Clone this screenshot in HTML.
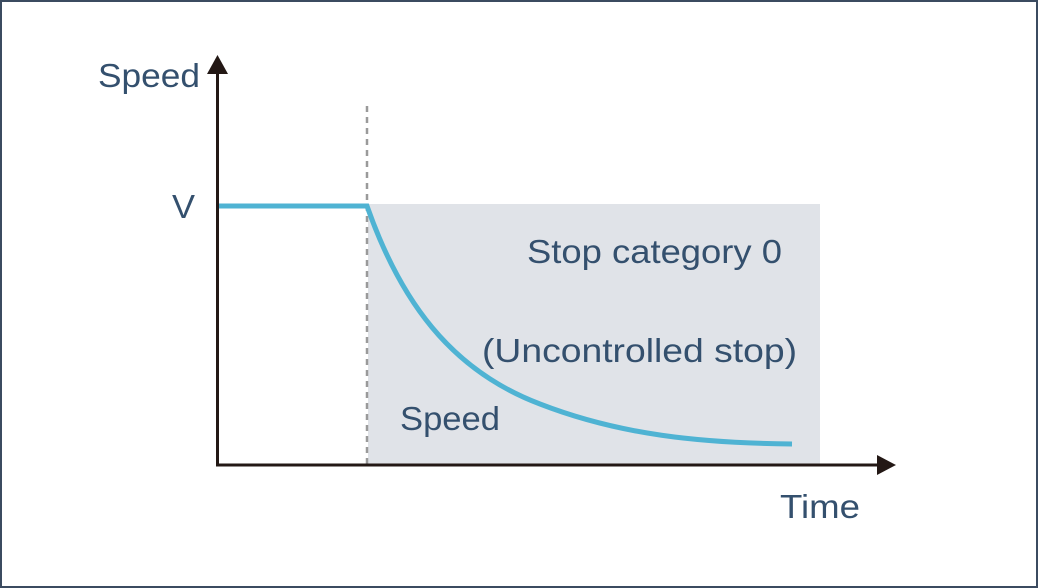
<!DOCTYPE html>
<html><head><style>
html,body{margin:0;padding:0;background:#fff}
</style></head><body>
<svg width="1038" height="588" viewBox="0 0 1038 588" xmlns="http://www.w3.org/2000/svg" style="display:block">
<rect x="1" y="1" width="1036" height="586" fill="#fff" stroke="#3b4b60" stroke-width="2"/>
<rect x="368" y="204" width="452" height="260" fill="#e0e3e8"/>
<line x1="367" y1="106" x2="367" y2="464" stroke="#9a9a9a" stroke-width="2.5" stroke-dasharray="6,5"/>
<line x1="217.5" y1="70" x2="217.5" y2="466" stroke="#231815" stroke-width="3"/>
<polygon points="217.5,55 207,74 228,74" fill="#231815"/>
<line x1="216" y1="465" x2="882" y2="465" stroke="#231815" stroke-width="3"/>
<polygon points="896,465 877,455 877,475" fill="#231815"/>
<path d="M219,206 L367,206 C400,300 450,370 540,404 C620,435 700,443 792,444" fill="none" stroke="#4fb3d3" stroke-width="5"/>
<g font-family="Liberation Sans, sans-serif" fill="#34506e" font-size="33">
<text x="98" y="87" textLength="102" lengthAdjust="spacingAndGlyphs">Speed</text>
<text x="172" y="218" textLength="23" lengthAdjust="spacingAndGlyphs">V</text>
<text x="527" y="263" textLength="255" lengthAdjust="spacingAndGlyphs">Stop category 0</text>
<text x="482" y="362" textLength="315" lengthAdjust="spacingAndGlyphs">(Uncontrolled stop)</text>
<text x="400" y="430" textLength="100" lengthAdjust="spacingAndGlyphs">Speed</text>
<text x="780" y="518" textLength="80" lengthAdjust="spacingAndGlyphs">Time</text>
</g>
</svg>
</body></html>
